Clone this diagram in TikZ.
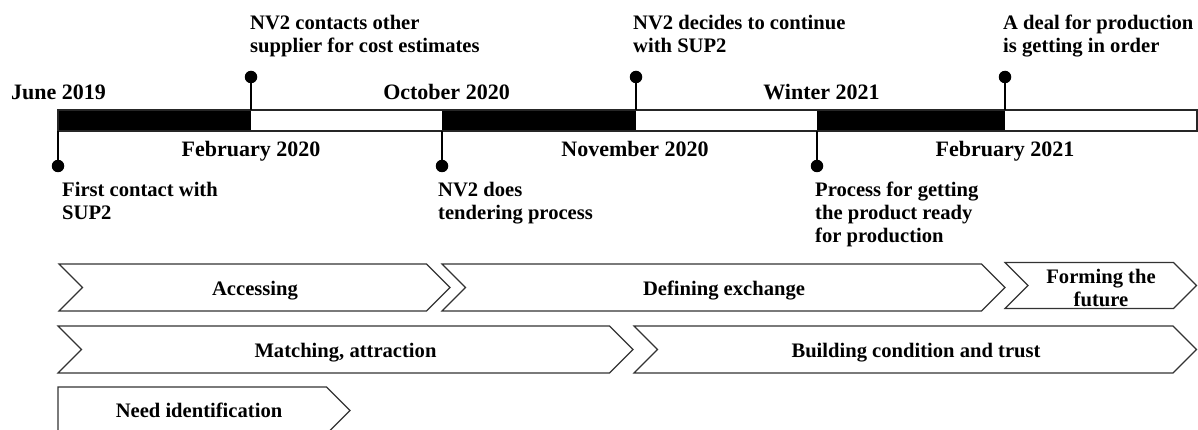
\documentclass[tikz,border=0pt]{standalone}
\usepackage{fontspec}
\setmainfont{Liberation Serif}
\begin{document}
\begin{tikzpicture}[x=1pt,y=-1pt,
  datelbl/.style={font=\bfseries\fontsize{22}{26}\selectfont, anchor=base, inner sep=0pt},
  evlbl/.style={font=\bfseries\fontsize{20.6}{23}\selectfont, anchor=base west, align=left, inner sep=0pt},
  phase/.style={draw=black!80, line width=1.2pt, line join=miter},
  phaselbl/.style={font=\bfseries\fontsize{20.6}{23}\selectfont, anchor=base, align=center, inner sep=0pt},
  pin/.style={circle, fill=black, inner sep=0pt, minimum size=12.5pt},
  stem/.style={line width=1.2pt},
  barline/.style={draw=black!85, line width=1.2pt},
]
\useasboundingbox (0,0) rectangle (1198,430);

% timeline bar with its three filled periods
\fill (58,110) rectangle (251,131);
\fill (442,110) rectangle (636,131);
\fill (817,110) rectangle (1005,131);
\draw[barline] (58,110) rectangle (1197,131);

% points on the bar where the event stems meet it
\coordinate (b1) at (58,131);
\coordinate (b2) at (251,110);
\coordinate (b3) at (442,131);
\coordinate (b4) at (636,110);
\coordinate (b5) at (817,131);
\coordinate (b6) at (1005,110);

% event pins
\node[pin] (p1) at (58,166) {};
\node[pin] (p2) at (251,77) {};
\node[pin] (p3) at (442,166) {};
\node[pin] (p4) at (636,77) {};
\node[pin] (p5) at (817,166) {};
\node[pin] (p6) at (1005,77) {};
\foreach \i in {1,...,6} \draw[stem] (p\i.center) -- (b\i);

% dates
\node[datelbl] (d1) at (58.5,100) {June 2019};
\node[datelbl] (d2) at (446.5,100) {October 2020};
\node[datelbl] (d3) at (821.5,100) {Winter 2021};
\node[datelbl] (d4) at (251,157) {February 2020};
\node[datelbl] (d5) at (635,157) {November 2020};
\node[datelbl] (d6) at (1005,157) {February 2021};

% events (the base anchor sits on the last line)
\node[evlbl] (e1) at (62,220) {First contact with\\SUP2};
\node[evlbl] (e2) at (250,52.5) {NV2 contacts other\\supplier for cost estimates};
\node[evlbl] (e3) at (438,220) {NV2 does\\tendering process};
\node[evlbl] (e4) at (633,52.5) {NV2 decides to continue\\with SUP2};
\node[evlbl] (e5) at (815,243) {Process for getting\\the product ready\\for production};
\node[evlbl] (e6) at (1003,52.5) {A deal for production\\is getting in order};

% phases, first row
\draw[phase] (59,264) -- (426.5,264) -- (450,287.5) -- (426.5,311) -- (59,311) -- (82.5,287.5) -- cycle;
\node[phaselbl] (ph1) at (255,295.5) {Accessing};
\draw[phase] (442,264) -- (981.5,264) -- (1005,287.5) -- (981.5,311) -- (442,311) -- (465.5,287.5) -- cycle;
\node[phaselbl] (ph2) at (724,295.5) {Defining exchange};
\draw[phase] (1005,262.5) -- (1173.5,262.5) -- (1196.5,285.5) -- (1173.5,308.5) -- (1005,308.5) -- (1028,285.5) -- cycle;
\node[phaselbl] (ph3) at (1101,306) {Forming the\\future};

% phases, second row
\draw[phase] (58,326) -- (609.5,326) -- (633,349.5) -- (609.5,373) -- (58,373) -- (81.5,349.5) -- cycle;
\node[phaselbl] (ph4) at (345.5,357) {Matching, attraction};
\draw[phase] (634,326) -- (1173,326) -- (1196.5,349.5) -- (1173,373) -- (634,373) -- (657.5,349.5) -- cycle;
\node[phaselbl] (ph5) at (916,357) {Building condition and trust};

% phases, third row
\draw[phase] (58,387) -- (326.5,387) -- (350,410.5) -- (326.5,434) -- (58,434) -- cycle;
\node[phaselbl] (ph6) at (199,417.5) {Need identification};
\end{tikzpicture}
\end{document}
